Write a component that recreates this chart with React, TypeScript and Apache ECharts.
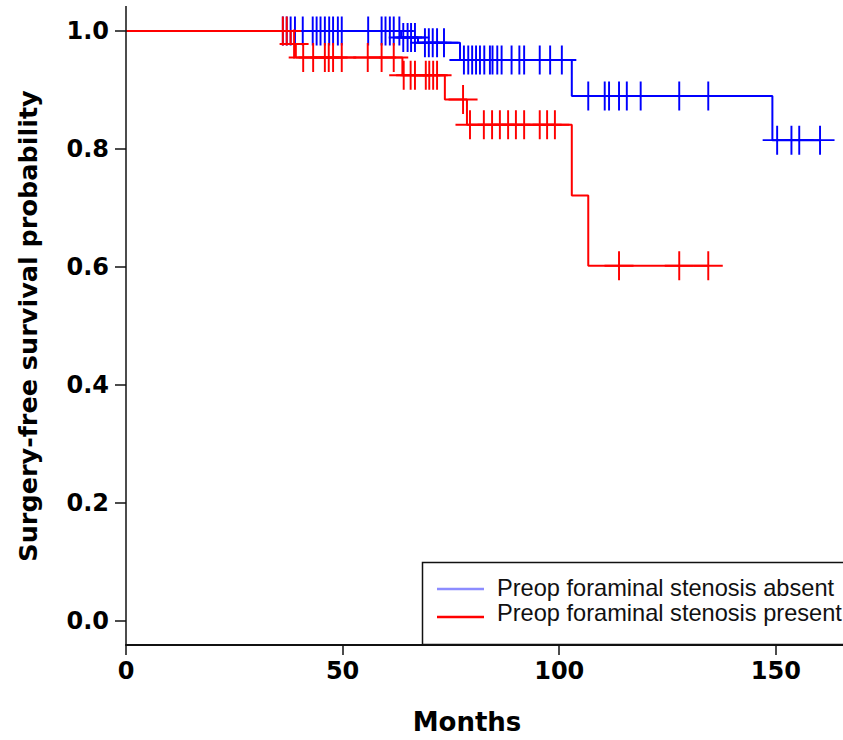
import React, { useEffect, useRef } from "react";
import * as echarts from "echarts";

// Kaplan-Meier steps (months, survival)
const absentTimes = [0, 63.5, 67.4, 77.1, 102.9, 149.2, 160.2];
const absentSurv = [1.0, 0.989, 0.98, 0.951, 0.89, 0.815, 0.815];
const absentCensor = [
  36.2, 37.1, 38.0, 39.0, 40.8, 43.1, 44.0, 44.9, 45.9, 46.9, 47.8, 48.9, 49.8, 55.9, 59.0, 59.9, 60.9, 61.8, 63.1,
  64.0, 65.0, 65.8, 66.7,
  69.0, 69.9, 70.8, 71.8, 73.4,
  78.0, 79.0, 79.9, 80.8, 81.7, 82.7, 84.0, 84.6, 85.7, 86.7, 89.0, 90.8, 91.9, 95.5, 97.9, 100.6,
  106.7, 110.5, 111.5, 113.8, 115.6, 118.8, 127.7, 134.4,
  150.3, 153.6, 155.4, 160.2,
];

const presentTimes = [0, 38.0, 39.2, 63.8, 73.6, 78.7, 102.9, 106.7, 134.4];
const presentSurv = [1.0, 0.978, 0.955, 0.925, 0.884, 0.841, 0.721, 0.602, 0.602];
const presentCensor = [
  36.2, 37.1,
  38.8,
  40.9, 43.2, 45.9, 46.8, 47.8, 49.8, 55.8, 59.0, 61.8,
  64.1, 65.7, 66.7, 69.2, 70.0, 70.9, 71.8,
  77.8,
  79.4, 82.6, 84.5, 86.3, 88.2, 90.0, 91.9, 95.5, 97.2, 99.0,
  113.8, 127.7, 134.4,
];

const xTicks = [0, 50, 100, 150];
const yTicks = [0, 0.2, 0.4, 0.6, 0.8, 1.0];

const seriesNames = ["Preop foraminal stenosis absent", "Preop foraminal stenosis present"];
const xTitle = "Months";
const yTitle = "Surgery-free survival probability";

const PLUS = "path://M14,0L16,0L16,14L30,14L30,16L16,16L16,30L14,30L14,16L0,16L0,14L14,14Z";

function levelAt(t: number, times: number[], surv: number[]) {
  let s = surv[0];
  for (let i = 0; i < times.length; i++) {
    if (times[i] <= t) s = surv[i];
  }
  return s;
}

export default function App() {
  const ref = useRef<HTMLDivElement>(null);
  useEffect(() => {
    if (!ref.current) return;
    const chart = echarts.init(ref.current, null, { renderer: "svg" });
    const boldFont = "DejaVu Sans";
    chart.setOption({
      animation: false,
      backgroundColor: "#ffffff",
      grid: { left: 126, right: 0, top: 31, bottom: 119, containLabel: false, outerBoundsMode: "none" },
      xAxis: {
        type: "value",
        min: 0,
        max: 165.5,
        interval: 50,
        offset: 24,
        axisLine: { show: true, onZero: false, lineStyle: { color: "#111", width: 2 } },
        axisTick: { show: true, inside: false, length: 10, lineStyle: { color: "#111", width: 1.5 }, customValues: xTicks },
        axisLabel: {
          show: true,
          margin: 14,
          color: "#000",
          fontSize: 24,
          fontWeight: "bold",
          fontFamily: boldFont,
          showMaxLabel: false,
        },
        splitLine: { show: false },
      },
      yAxis: {
        type: "value",
        min: 0,
        max: 1,
        interval: 0.2,
        axisLine: { show: false },
        axisTick: { show: true, inside: false, length: 11, lineStyle: { color: "#111", width: 1.5 } },
        axisLabel: {
          show: true,
          margin: 17,
          color: "#000",
          fontSize: 24,
          fontWeight: "bold",
          fontFamily: boldFont,
          formatter: (v: number) => v.toFixed(1),
        },
        splitLine: { show: false },
      },
      series: [
        {
          type: "line",
          name: seriesNames[0],
          step: "end",
          showSymbol: false,
          clip: false,
          data: absentTimes.map((t, i) => [t, absentSurv[i]]),
          lineStyle: { color: "#0000ff", width: 2 },
          itemStyle: { color: "#0000ff" },
          z: 2,
        },
        {
          type: "scatter",
          name: seriesNames[0] + " censored",
          symbol: PLUS,
          symbolSize: 29,
          clip: false,
          data: absentCensor.map((t) => [t, levelAt(t, absentTimes, absentSurv)]),
          itemStyle: { color: "#0000ff", opacity: 1 },
          z: 3,
        },
        {
          type: "line",
          name: seriesNames[1],
          step: "end",
          showSymbol: false,
          clip: false,
          data: presentTimes.map((t, i) => [t, presentSurv[i]]),
          lineStyle: { color: "#ff0000", width: 2 },
          itemStyle: { color: "#ff0000" },
          z: 4,
        },
        {
          type: "scatter",
          name: seriesNames[1] + " censored",
          symbol: PLUS,
          symbolSize: 29,
          clip: false,
          data: presentCensor.map((t) => [t, levelAt(t, presentTimes, presentSurv)]),
          itemStyle: { color: "#ff0000", opacity: 1 },
          z: 5,
        },
      ],
      graphic: [
        {
          type: "line",
          shape: { x1: 126, y1: 6, x2: 126, y2: 645 },
          style: { stroke: "#111", lineWidth: 1.5 },
          z: 10,
        },
        {
          type: "rect",
          shape: { x: 422.5, y: 562.5, width: 440, height: 82 },
          style: { fill: "#ffffff", stroke: "#111", lineWidth: 1.5 },
          z: 10,
        },
        {
          type: "line",
          shape: { x1: 437, y1: 589, x2: 484, y2: 589 },
          style: { stroke: "#8c8cff", lineWidth: 2.5 },
          z: 11,
        },
        {
          type: "line",
          shape: { x1: 437, y1: 617, x2: 484, y2: 617 },
          style: { stroke: "#ff0000", lineWidth: 2.5 },
          z: 11,
        },
        {
          type: "text",
          x: 497,
          y: 588,
          style: {
            text: seriesNames[0],
            fill: "#111",
            fontSize: 23.6,
            fontFamily: "Liberation Sans",
            align: "left",
            verticalAlign: "middle",
          },
          z: 11,
        },
        {
          type: "text",
          x: 497,
          y: 612.5,
          style: {
            text: seriesNames[1],
            fill: "#111",
            fontSize: 23.6,
            fontFamily: "Liberation Sans",
            align: "left",
            verticalAlign: "middle",
          },
          z: 11,
        },
        {
          type: "text",
          x: 467,
          y: 722,
          style: {
            text: xTitle,
            fill: "#000",
            fontSize: 26,
            fontWeight: "bold",
            fontFamily: boldFont,
            align: "center",
            verticalAlign: "middle",
          },
        },
        {
          type: "text",
          x: 28,
          y: 326,
          rotation: Math.PI / 2,
          style: {
            text: yTitle,
            fill: "#000",
            fontSize: 25.5,
            fontWeight: "bold",
            fontFamily: boldFont,
            align: "center",
            verticalAlign: "middle",
          },
        },
      ],
    });
    return () => chart.dispose();
  }, []);
  return <div ref={ref} style={{ width: 843, height: 740, position: "absolute", left: 0, top: 0 }} />;
}
